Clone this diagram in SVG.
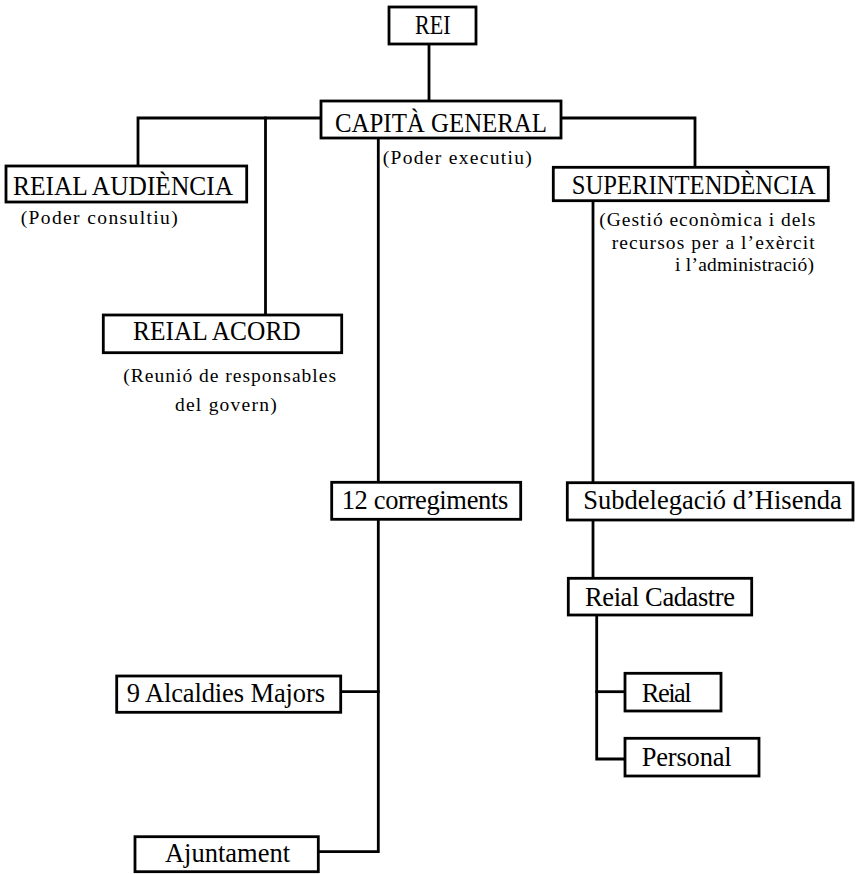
<svg xmlns="http://www.w3.org/2000/svg" width="856" height="874" viewBox="0 0 856 874">
<style>
.box{fill:#fff;stroke:#000;stroke-width:2.8}
.ln{fill:none;stroke:#000;stroke-width:2.8;stroke-linejoin:miter;stroke-linecap:square}
.t{font-size:26.5px;fill:#000}
.d{font-size:19.5px;fill:#000}
</style>
<rect width="856" height="874" fill="#fff"/>
<g id="connectors">
<path class="ln" d="M429,44V101"/>
<path class="ln" d="M321,118H138V166"/>
<path class="ln" d="M265.5,118V315"/>
<path class="ln" d="M561,118H695V167"/>
<path class="ln" d="M378.3,138V482.3"/>
<path class="ln" d="M378.3,519.3V851.7H318.3"/>
<path class="ln" d="M340.7,691.7H378.3"/>
<path class="ln" d="M593,200.7V482.7"/>
<path class="ln" d="M593,520V578.3"/>
<path class="ln" d="M596.7,615V759H625"/>
<path class="ln" d="M596.7,691.7H625"/>
</g>
<g font-family="Liberation Serif, Times New Roman, serif">
<g id="rei"><rect class="box" x="389" y="7" width="87" height="37"/><text class="t" x="415" y="34" textLength="35.5" lengthAdjust="spacingAndGlyphs">REI</text></g>
<g id="capita"><rect class="box" x="321" y="101" width="240" height="37"/><text class="t" x="335" y="131.5" textLength="212" lengthAdjust="spacingAndGlyphs">CAPITÀ GENERAL</text><text class="d" x="382.7" y="164" textLength="149">(Poder executiu)</text></g>
<g id="audiencia"><rect class="box" x="6" y="166" width="240.7" height="36"/><text class="t" x="13" y="195" textLength="220" lengthAdjust="spacingAndGlyphs">REIAL AUDIÈNCIA</text><text class="d" x="20.7" y="223.5" textLength="157">(Poder consultiu)</text></g>
<g id="superintendencia"><rect class="box" x="553.3" y="167.3" width="275" height="33.4"/><text class="t" x="571.7" y="194.3" textLength="244" lengthAdjust="spacingAndGlyphs">SUPERINTENDÈNCIA</text><text class="d" x="599.3" y="225.5" textLength="216">(Gestió econòmica i dels</text><text class="d" x="611.7" y="248.5" textLength="203">recursos per a l’exèrcit</text><text class="d" x="675" y="271" textLength="139">i l’administració)</text></g>
<g id="acord"><rect class="box" x="103.3" y="315" width="238.4" height="37.7"/><text class="t" x="133" y="340" textLength="167.7" lengthAdjust="spacingAndGlyphs">REIAL ACORD</text><text class="d" x="123.3" y="382" textLength="212.7">(Reunió de responsables</text><text class="d" x="175" y="410.5" textLength="101.7">del govern)</text></g>
<g id="corregiments"><rect class="box" x="331.7" y="482.3" width="189" height="37"/><text class="t" x="341.7" y="509.3" textLength="166.6">12 corregiments</text></g>
<g id="subdelegacio"><rect class="box" x="567.3" y="482.7" width="285.7" height="37.3"/><text class="t" x="583.3" y="509.3" textLength="258.4">Subdelegació d’Hisenda</text></g>
<g id="cadastre"><rect class="box" x="568.3" y="578.3" width="183.4" height="36.7"/><text class="t" x="585" y="606" textLength="150">Reial Cadastre</text></g>
<g id="reial"><rect class="box" x="625" y="673.3" width="96" height="37.7"/><text class="t" x="641.7" y="701.7" textLength="50">Reial</text></g>
<g id="personal"><rect class="box" x="625" y="738.3" width="134" height="37.7"/><text class="t" x="641.7" y="766" textLength="90">Personal</text></g>
<g id="alcaldies"><rect class="box" x="116.7" y="676" width="224" height="36.3"/><text class="t" x="126.7" y="701.7" textLength="198.3">9 Alcaldies Majors</text></g>
<g id="ajuntament"><rect class="box" x="135" y="836.7" width="183.3" height="35"/><text class="t" x="165" y="861.7" textLength="125">Ajuntament</text></g>
</g>
</svg>
